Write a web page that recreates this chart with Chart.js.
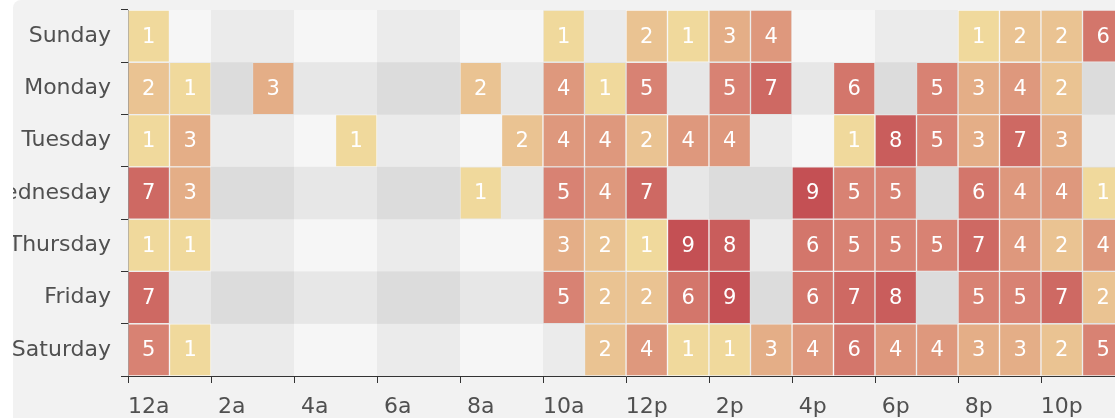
<!DOCTYPE html>
<html>
<head>
<meta charset="utf-8">
<script src="https://cdn.jsdelivr.net/npm/chart.js@4/dist/chart.umd.min.js"></script>
<style>
  html, body { margin: 0; padding: 0; background: #ffffff; overflow: hidden; }
  #frame {
    position: absolute; left: 13px; top: 0; width: 1102px; height: 418px;
    background: #f2f2f2; overflow: hidden; border-top-left-radius: 8px;
  }
  #heat { position: absolute; left: -13px; top: 0; }
</style>
</head>
<body>
<div id="frame"><canvas id="heat" width="1140" height="418"></canvas></div>
<script>
// hours along x, days down y (top to bottom)
const hours = ['12a', '1a', '2a', '3a', '4a', '5a', '6a', '7a', '8a', '9a', '10a', '11a',
               '12p', '1p', '2p', '3p', '4p', '5p', '6p', '7p', '8p', '9p', '10p', '11p'];
const days = ['Sunday', 'Monday', 'Tuesday', 'Wednesday', 'Thursday', 'Friday', 'Saturday'];

// 0 = no cell drawn
const sunday    = [1, 0, 0, 0, 0, 0, 0, 0, 0, 0, 1, 0, 2, 1, 3, 4, 0, 0, 0, 0, 1, 2, 2, 6];
const monday    = [2, 1, 0, 3, 0, 0, 0, 0, 2, 0, 4, 1, 5, 0, 5, 7, 0, 6, 0, 5, 3, 4, 2, 0];
const tuesday   = [1, 3, 0, 0, 0, 1, 0, 0, 0, 2, 4, 4, 2, 4, 4, 0, 0, 1, 8, 5, 3, 7, 3, 0];
const wednesday = [7, 3, 0, 0, 0, 0, 0, 0, 1, 0, 5, 4, 7, 0, 0, 0, 9, 5, 5, 0, 6, 4, 4, 1];
const thursday  = [1, 1, 0, 0, 0, 0, 0, 0, 0, 0, 3, 2, 1, 9, 8, 0, 6, 5, 5, 5, 7, 4, 2, 4];
const friday    = [7, 0, 0, 0, 0, 0, 0, 0, 0, 0, 5, 2, 2, 6, 9, 0, 6, 7, 8, 0, 5, 5, 7, 2];
const saturday  = [5, 1, 0, 0, 0, 0, 0, 0, 0, 0, 0, 2, 4, 1, 1, 3, 4, 6, 4, 4, 3, 3, 2, 5];

const rows = [sunday, monday, tuesday, wednesday, thursday, friday, saturday];

// visual map: 0 -> 10
const colorStops = ['#f6efa6', '#d88273', '#bf444c'];
const visMin = 0, visMax = 10;

function hexRgb(h) {
    return [parseInt(h.slice(1, 3), 16), parseInt(h.slice(3, 5), 16), parseInt(h.slice(5, 7), 16)];
}
function cellColor(v) {
    const t = Math.max(0, Math.min(1, (v - visMin) / (visMax - visMin))) * (colorStops.length - 1);
    const i = Math.min(Math.floor(t), colorStops.length - 2);
    const f = t - i;
    const a = hexRgb(colorStops[i]), b = hexRgb(colorStops[i + 1]);
    const c = a.map((x, k) => Math.round(x + (b[k] - x) * f));
    return `rgb(${c[0]},${c[1]},${c[2]})`;
}

// one floating-bar dataset per day; linear y runs 0 (bottom) .. 7 (top)
const datasets = rows.map((row, r) => {
    const lo = days.length - 1 - r;
    return {
        label: days[r],
        values: row,
        data: row.map(v => v > 0 ? [lo, lo + 1] : null),
        backgroundColor: row.map(v => cellColor(v)),
        borderColor: 'rgba(255,255,255,0.1)',
        borderWidth: 1,
        borderSkipped: false,
        grouped: false,
        barPercentage: 1,
        categoryPercentage: 1
    };
});

// alternating split areas (x every 2 hours, y every row)
const splitAreas = {
    id: 'splitAreas',
    beforeDatasetsDraw(chart) {
        const { ctx, chartArea, scales } = chart;
        const colW = (chartArea.right - chartArea.left) / hours.length;
        const shades = ['rgba(250,250,250,0.3)', 'rgba(200,200,200,0.3)'];
        ctx.save();
        for (let b = 0; b < hours.length / 2; b++) {
            const x0 = scales.x.getPixelForValue(b * 2) - colW / 2;
            ctx.fillStyle = shades[b % 2];
            ctx.fillRect(x0, chartArea.top, colW * 2, chartArea.bottom - chartArea.top);
        }
        for (let r = 0; r < days.length; r++) {
            const yTop = scales.y.getPixelForValue(r + 1);
            const yBot = scales.y.getPixelForValue(r);
            ctx.fillStyle = shades[r % 2];
            ctx.fillRect(chartArea.left, yTop, chartArea.right - chartArea.left, yBot - yTop);
        }
        ctx.restore();
    }
};

// numbers inside cells
const cellLabels = {
    id: 'cellLabels',
    afterDatasetsDraw(chart) {
        const ctx = chart.ctx;
        ctx.save();
        ctx.fillStyle = '#ffffff';
        ctx.font = '21px "DejaVu Sans", sans-serif';
        ctx.textAlign = 'center';
        ctx.textBaseline = 'middle';
        chart.data.datasets.forEach((ds, di) => {
            chart.getDatasetMeta(di).data.forEach((el, i) => {
                const v = ds.values[i];
                if (!v) return;
                const p = el.getProps(['x', 'y', 'base'], true);
                ctx.fillText(String(v), p.x, (p.y + p.base) / 2 + 1);
            });
        });
        ctx.restore();
    }
};

Chart.defaults.font.family = '"DejaVu Sans", sans-serif';
Chart.defaults.font.size = 22;
Chart.defaults.color = '#505050';

new Chart(document.getElementById('heat'), {
    type: 'bar',
    data: { labels: hours, datasets: datasets },
    options: {
        responsive: false,
        animation: false,
        events: [],
        layout: { padding: { top: 10, bottom: 0, right: 16, left: 0 } },
        plugins: { legend: { display: false }, tooltip: { enabled: false } },
        scales: {
            x: {
                type: 'category',
                offset: true,
                grid: {
                    offset: true,
                    drawOnChartArea: false,
                    tickLength: 7,
                    tickColor: (c) => c.index % 2 === 0 ? '#333333' : 'rgba(0,0,0,0)'
                },
                border: { display: true, color: '#333333', width: 1 },
                ticks: {
                    autoSkip: false,
                    maxRotation: 0,
                    padding: 11,
                    callback: (val, i) => i % 2 === 0 ? hours[i] : ''
                },
                afterFit: (scale) => { scale.height = 42; scale.paddingLeft = 0; scale.paddingRight = 0; }
            },
            y: { type: 'linear', display: false, min: 0, max: days.length },
            yDays: {
                type: 'category',
                position: 'left',
                labels: days,
                offset: true,
                grid: { offset: true, drawOnChartArea: false, tickLength: 7, tickColor: '#333333' },
                border: { display: true, color: '#333333', width: 1 },
                ticks: { padding: 10 },
                afterFit: (scale) => { scale.width = 128; scale.paddingTop = 0; scale.paddingBottom = 0; }
            }
        }
    },
    plugins: [splitAreas, cellLabels]
});
</script>
</body>
</html>
